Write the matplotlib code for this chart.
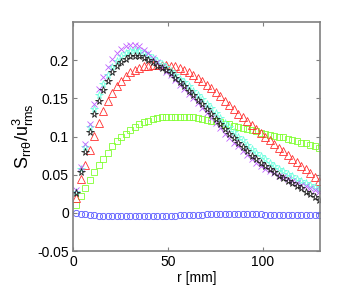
import numpy as np
import matplotlib
matplotlib.use("Agg")
import matplotlib.pyplot as plt

plt.rcParams['font.family'] = ['Liberation Sans', 'DejaVu Sans']
plt.rcParams['mathtext.fontset'] = 'custom'
plt.rcParams['mathtext.rm'] = 'Liberation Sans'
plt.rcParams['mathtext.it'] = 'Liberation Sans'

# rayon (mm)
r = np.linspace(1.8, 129.7, 55)

# S_rrtheta / u_rms^3 pour chaque cas
s_bleu = [0.000, -0.001, -0.002, -0.003, -0.003, -0.004, -0.004, -0.004, -0.004, -0.004,
          -0.004, -0.004, -0.004, -0.004, -0.004, -0.004, -0.004, -0.004, -0.004, -0.004,
          -0.004, -0.004, -0.004, -0.003, -0.003, -0.003, -0.003, -0.003, -0.003, -0.002,
          -0.002, -0.002, -0.001, -0.001, -0.001, -0.001, -0.001, -0.001, -0.001, -0.001,
          -0.002, -0.002, -0.003, -0.003, -0.003, -0.003, -0.003, -0.003, -0.003, -0.003,
          -0.003, -0.003, -0.003, -0.003, -0.003]
s_vert = [0.010, 0.022, 0.033, 0.043, 0.053, 0.063, 0.071, 0.079, 0.087, 0.094,
          0.099, 0.104, 0.109, 0.113, 0.116, 0.119, 0.121, 0.123, 0.124, 0.125,
          0.126, 0.126, 0.126, 0.126, 0.126, 0.126, 0.125, 0.124, 0.123, 0.122,
          0.121, 0.120, 0.119, 0.117, 0.116, 0.114, 0.113, 0.111, 0.110, 0.108,
          0.107, 0.105, 0.104, 0.102, 0.101, 0.100, 0.099, 0.097, 0.096, 0.094,
          0.092, 0.091, 0.089, 0.087, 0.085]
s_rouge = [0.020, 0.044, 0.063, 0.082, 0.101, 0.118, 0.133, 0.146, 0.157, 0.166,
           0.173, 0.179, 0.184, 0.187, 0.190, 0.192, 0.193, 0.194, 0.194, 0.194,
           0.194, 0.193, 0.192, 0.190, 0.187, 0.184, 0.181, 0.177, 0.173, 0.168,
           0.163, 0.158, 0.153, 0.147, 0.141, 0.136, 0.130, 0.125, 0.120, 0.115,
           0.110, 0.105, 0.100, 0.095, 0.090, 0.085, 0.081, 0.076, 0.071, 0.067,
           0.062, 0.057, 0.052, 0.047, 0.042]
s_violet = [0.030, 0.060, 0.090, 0.116, 0.142, 0.162, 0.178, 0.191, 0.201, 0.209,
            0.215, 0.218, 0.220, 0.220, 0.218, 0.214, 0.209, 0.203, 0.197, 0.191,
            0.185, 0.180, 0.174, 0.168, 0.162, 0.156, 0.150, 0.144, 0.137, 0.131,
            0.124, 0.118, 0.111, 0.104, 0.098, 0.092, 0.087, 0.081, 0.076, 0.071,
            0.066, 0.062, 0.058, 0.055, 0.052, 0.049, 0.047, 0.044, 0.042, 0.039,
            0.037, 0.035, 0.032, 0.030, 0.028]
s_cyan = [0.027, 0.057, 0.086, 0.112, 0.136, 0.154, 0.169, 0.181, 0.191, 0.199,
          0.205, 0.209, 0.212, 0.213, 0.212, 0.210, 0.207, 0.203, 0.199, 0.195,
          0.191, 0.186, 0.181, 0.176, 0.171, 0.166, 0.160, 0.155, 0.149, 0.143,
          0.137, 0.131, 0.124, 0.118, 0.112, 0.106, 0.100, 0.095, 0.089, 0.084,
          0.079, 0.074, 0.070, 0.066, 0.062, 0.058, 0.055, 0.051, 0.048, 0.045,
          0.042, 0.039, 0.037, 0.034, 0.031]
s_noir = [0.026, 0.054, 0.080, 0.106, 0.129, 0.147, 0.161, 0.173, 0.184, 0.192,
          0.198, 0.202, 0.205, 0.206, 0.205, 0.203, 0.200, 0.197, 0.193, 0.190,
          0.187, 0.183, 0.177, 0.171, 0.166, 0.160, 0.154, 0.148, 0.142, 0.136,
          0.129, 0.123, 0.116, 0.110, 0.104, 0.098, 0.092, 0.086, 0.081, 0.075,
          0.070, 0.065, 0.061, 0.057, 0.053, 0.049, 0.046, 0.042, 0.039, 0.035,
          0.032, 0.028, 0.025, 0.021, 0.017]

fig = plt.figure(figsize=(3.54, 2.86), dpi=100)
ax = fig.add_axes([0.206, 0.122, 0.698, 0.801])

ms = 4.5
lw = 0.6
ax.plot(r, s_bleu, 'o', mfc='none', mec='#5a5aff', ms=ms, mew=lw)
ax.plot(r, s_vert, 's', mfc='none', mec='#80ff30', ms=ms, mew=lw)
ax.plot(r, s_rouge, '^', mfc='none', mec='#ff3030', ms=ms + 0.7, mew=lw)
ax.plot(r, s_cyan, '*', mfc='none', mec='#70ffe0', ms=ms + 1.0, mew=lw)
ax.plot(r, s_violet, 'x', mec='#c060ff', ms=ms, mew=lw)
ax.plot(r, s_noir, '*', mfc='none', mec='#202020', ms=ms + 1.0, mew=lw)

ax.set_xlim(0, 130)
ax.set_ylim(-0.05, 0.25)
ax.set_xticks([0, 50, 100])
ax.set_yticks([-0.05, 0, 0.05, 0.1, 0.15, 0.2])
ax.set_yticklabels(['-0.05', '0', '0.05', '0.1', '0.15', '0.2'])
ax.tick_params(direction='in', length=3, width=0.8, color='#808080',
               labelsize=10, top=True, right=True, pad=3)
for s in ax.spines.values():
    s.set_color('#808080')
    s.set_linewidth(1.2)

ax.set_xlabel('r [mm]', fontsize=10, labelpad=1)
ax.set_ylabel(r'$\mathrm{S_{rr\theta}/u^3_{rms}}$', fontsize=13, labelpad=1)

fig.savefig('out.png', dpi=100)
